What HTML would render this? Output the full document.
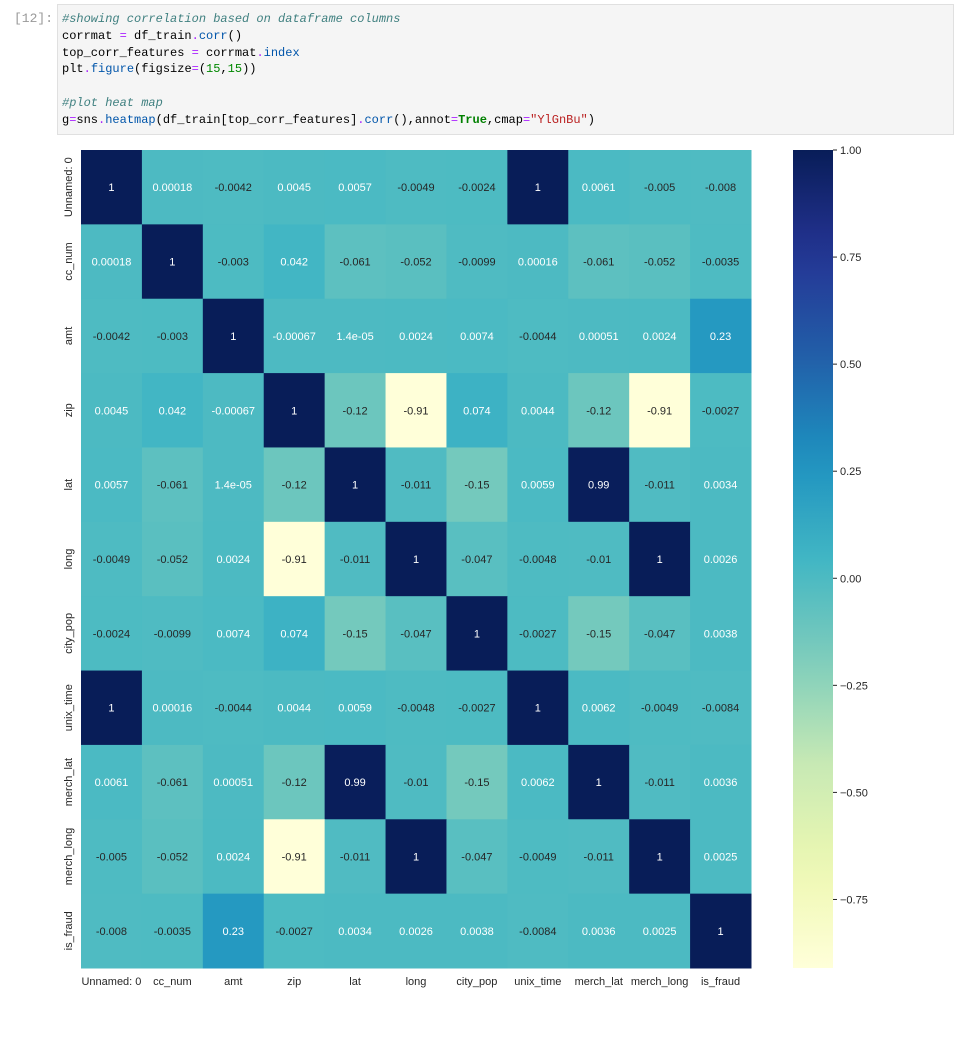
<!DOCTYPE html>
<html><head><meta charset="utf-8">
<style>
body{margin:0;background:#fff;width:975px;height:1052px;overflow:hidden;font-family:"Liberation Sans",sans-serif;}
.prompt{position:absolute;left:14px;top:11px;font:13px "Liberation Mono",monospace;color:#999;}
.cell{position:absolute;left:57px;top:4px;width:895px;height:129px;background:#f5f5f5;border:1px solid #e0e0e0;}
.code{position:absolute;left:4px;top:6px;font:12px/16.8px "Liberation Mono",monospace;color:#000;white-space:pre;margin:0;}
.c{color:#408080;font-style:italic}.k{color:#008000;font-weight:bold}.o{color:#aa22ff}.n{color:#080}.s{color:#ba2121}.f{color:#0055aa}
</style></head><body>
<div class="prompt">[12]:</div>
<div class="cell"><pre class="code"><span class="c">#showing correlation based on dataframe columns</span>
corrmat <span class="o">=</span> df_train<span class="o">.</span><span class="f">corr</span>()
top_corr_features <span class="o">=</span> corrmat<span class="o">.</span><span class="f">index</span>
plt<span class="o">.</span><span class="f">figure</span>(figsize<span class="o">=</span>(<span class="n">15</span>,<span class="n">15</span>))

<span class="c">#plot heat map</span>
g<span class="o">=</span>sns<span class="o">.</span><span class="f">heatmap</span>(df_train[top_corr_features]<span class="o">.</span><span class="f">corr</span>(),annot<span class="o">=</span><span class="k">True</span>,cmap<span class="o">=</span><span class="s">"YlGnBu"</span>)</pre></div>
<svg id="chart" width="975" height="1052" style="position:absolute;left:0;top:0"></svg>
<script>
const labels=["Unnamed: 0","cc_num","amt","zip","lat","long","city_pop","unix_time","merch_lat","merch_long","is_fraud"];
const annots=[
["1","0.00018","-0.0042","0.0045","0.0057","-0.0049","-0.0024","1","0.0061","-0.005","-0.008"],
["0.00018","1","-0.003","0.042","-0.061","-0.052","-0.0099","0.00016","-0.061","-0.052","-0.0035"],
["-0.0042","-0.003","1","-0.00067","1.4e-05","0.0024","0.0074","-0.0044","0.00051","0.0024","0.23"],
["0.0045","0.042","-0.00067","1","-0.12","-0.91","0.074","0.0044","-0.12","-0.91","-0.0027"],
["0.0057","-0.061","1.4e-05","-0.12","1","-0.011","-0.15","0.0059","0.99","-0.011","0.0034"],
["-0.0049","-0.052","0.0024","-0.91","-0.011","1","-0.047","-0.0048","-0.01","1","0.0026"],
["-0.0024","-0.0099","0.0074","0.074","-0.15","-0.047","1","-0.0027","-0.15","-0.047","0.0038"],
["1","0.00016","-0.0044","0.0044","0.0059","-0.0048","-0.0027","1","0.0062","-0.0049","-0.0084"],
["0.0061","-0.061","0.00051","-0.12","0.99","-0.01","-0.15","0.0062","1","-0.011","0.0036"],
["-0.005","-0.052","0.0024","-0.91","-0.011","1","-0.047","-0.0049","-0.011","1","0.0025"],
["-0.008","-0.0035","0.23","-0.0027","0.0034","0.0026","0.0038","-0.0084","0.0036","0.0025","1"]];
const cbTicks=[1,0.75,0.5,0.25,0,-0.25,-0.5,-0.75];
const vmin=-0.91,vmax=1;
const stops=["#ffffd9","#edf8b1","#c7e9b4","#7fcdbb","#41b6c4","#1d91c0","#225ea8","#253494","#081d58"];
function hex(h){return [1,3,5].map(i=>parseInt(h.substr(i,2),16));}
function cmap(v){let t=(v-vmin)/(vmax-vmin);t=Math.max(0,Math.min(1,t))*(stops.length-1);const i=Math.min(Math.floor(t),stops.length-2),f=t-i;const a=hex(stops[i]),b=hex(stops[i+1]);return a.map((x,k)=>Math.round(x+(b[k]-x)*f));}
function lum(c){const l=c.map(x=>{x/=255;return x<=0.03928?x/12.92:Math.pow((x+0.055)/1.055,2.4)});return 0.2126*l[0]+0.7152*l[1]+0.0722*l[2];}
const X0=81,X1=751,Y0=150,Y1=968;
const cw=(X1-X0)/labels.length,ch=(Y1-Y0)/labels.length;
const xs=i=>X0+i*cw,ys=j=>Y0+j*ch;
const svg=document.getElementById('chart');const NS="http://www.w3.org/2000/svg";
function mk(t,a,p){const e=document.createElementNS(NS,t);for(const k in a)e.setAttribute(k,a[k]);(p||svg).appendChild(e);return e;}
for(let r=0;r<labels.length;r++)for(let c=0;c<labels.length;c++){
 const v=parseFloat(annots[r][c]);const col=cmap(v);
 const rc=mk('rect',{x:xs(c),y:ys(r),width:cw+0.5,height:ch+0.5,fill:`rgb(${col})`});
 
 
 const tx=mk('text',{x:xs(c)+cw/2,y:ys(r)+ch/2+4,'text-anchor':'middle','font-size':'11',fill:lum(col)>0.408?'#262626':'#fff'});
 tx.textContent=annots[r][c];
 
 
}
labels.forEach((l,i)=>{
 const t=mk('text',{x:xs(i)+cw/2,y:Y1+17,'text-anchor':'middle','font-size':'11',fill:'#262626'});t.textContent=l;
 
 
 const yy=ys(i)+ch/2;
 const u=mk('text',{x:0,y:0,'text-anchor':'middle','font-size':'11',fill:'#262626',transform:`translate(72,${yy}) rotate(-90)`});u.textContent=l;
 
 
});
const CX=793,CW=40;const cy=v=>Y0+(vmax-v)/(vmax-vmin)*(Y1-Y0);
const defs=mk('defs',{});const g=mk('linearGradient',{id:'cb',x1:0,y1:0,x2:0,y2:1},defs);
for(let i=0;i<=20;i++){const v=vmax-(vmax-vmin)*i/20;mk('stop',{offset:i/20,'stop-color':`rgb(${cmap(v)})`},g);}
const cb=mk('rect',{x:CX,y:Y0,width:CW,height:Y1-Y0,fill:'url(#cb)'});


cbTicks.forEach(v=>{
 const y=cy(v);mk('line',{x1:CX+CW,x2:CX+CW+4,y1:y,y2:y,stroke:'#262626','stroke-width':1});
 const t=mk('text',{x:CX+CW+7,y:y+4,'font-size':'11',fill:'#262626'});t.textContent=(v<0?'\u2212':'')+Math.abs(v).toFixed(2);
 
 
});
</script>
</body></html>
